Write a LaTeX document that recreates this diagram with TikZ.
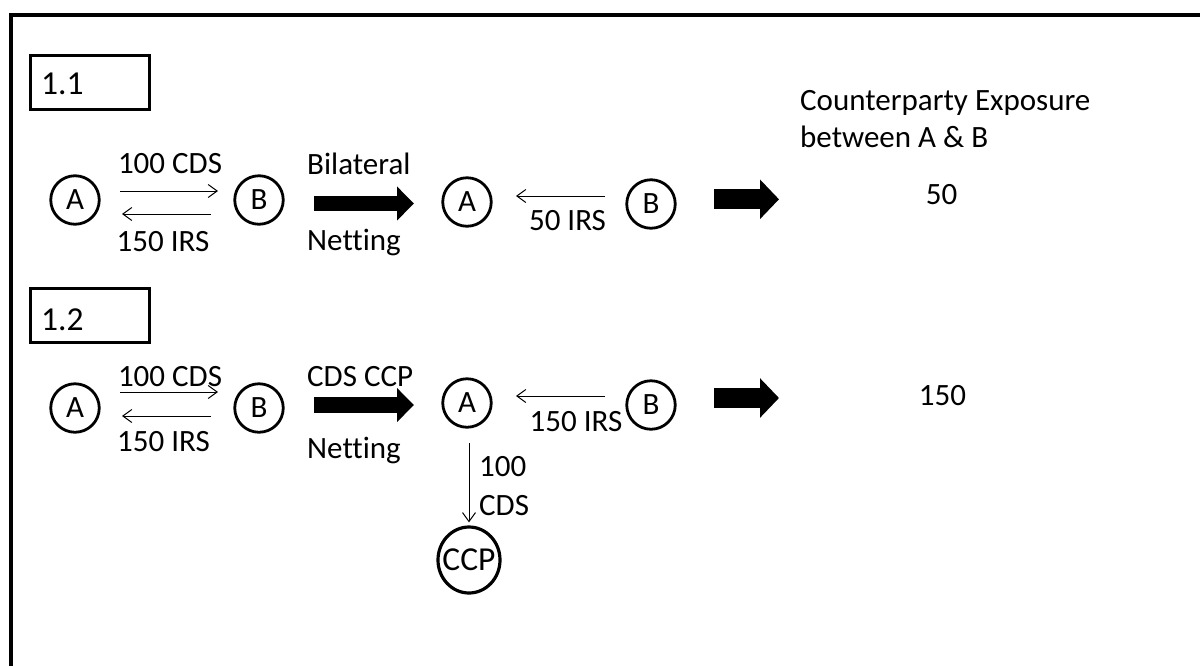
\documentclass[tikz,border=0pt]{standalone}
\usepackage{fontspec}
\setmainfont{Carlito}[Ligatures=NoCommon]
\usetikzlibrary{arrows.meta,calc,shapes.geometric}

\begin{document}
\begin{tikzpicture}[x=1pt,y=-1pt,
  txt/.style={inner sep=0pt,font=\fontsize{31}{37}\selectfont},
  party/.style={circle,draw,line width=2.8pt,minimum size=48.5pt,inner sep=0pt,
    font=\fontsize{31}{37}\selectfont},
  hub/.style={ellipse,draw,line width=3.2pt,minimum width=62pt,minimum height=66pt,
    inner sep=0pt,font=\fontsize{33.5}{40}\selectfont},
  secbox/.style={draw,line width=2.8pt,minimum width=119.5pt,minimum height=54.5pt,inner sep=0pt},
  sectxt/.style={inner sep=0pt,font=\fontsize{33.5}{40}\selectfont},
  flow/.style={line width=1pt,-{Straight Barb[length=9pt,width=13pt]}},
  netwide/.style={line width=15.5pt,-{Triangle[length=17pt,width=33pt]}},
  netshort/.style={line width=20pt,-{Triangle[length=19pt,width=38.5pt]}}
]
\useasboundingbox (0,0) rectangle (1200,665);
\clip (0,0) rectangle (1200,665);

% outer frame (runs past the right and bottom edges)
\draw[line width=3.5pt] (11,720) -- (11,15) -- (1260,15);

% ---------- 1.1 : bilateral netting ----------
\node[secbox] (box1) at (90,82.5) {};
\node[sectxt,anchor=base west] (sec1) at (41,94.3) {1.1};

\node[party] (a1) at (75,200) {A};
\node[party] (b1) at (259,200) {B};
\draw[flow] ($(a1.center)+(45,-9)$) -- ($(b1.center)+(-41,-9)$);
\draw[flow] ($(b1.center)+(-48,14)$) -- ($(a1.center)+(47,14)$);
\node[txt,anchor=base] (cds1) at (170,173.3) {100 CDS};
\node[txt,anchor=base] (irs1) at (163,251) {150 IRS};

\node[txt,anchor=base west] (bil) at (307,174) {Bilateral};
\node[txt,anchor=base west] (net1) at (307,250) {Netting};

\node[party] (a2) at (467,202) {A};
\node[party] (b2) at (651,204) {B};
\draw[netwide] ($(b1.center)+(55,3.5)$) -- ($(a2.center)+(-53,1.5)$);
\draw[flow] ($(b2.center)+(-46,-8)$) -- ($(a2.center)+(49,-6)$);
\node[txt,anchor=base] (irs2) at (567.5,230.7) {50 IRS};

\draw[netshort] ($(b2.center)+(63,-4.7)$) -- ++(65,0);

\node[txt,anchor=base west] (exp1) at (800,110) {Counterparty Exposure};
\node[txt,anchor=base west] (exp2) at (800,147.3) {between A \& B};
\node[txt,anchor=base] (res1) at (941.7,204) {50};

% ---------- 1.2 : CDS cleared through a CCP ----------
\node[secbox] (box2) at (90,315.5) {};
\node[sectxt,anchor=base west] (sec2) at (41,330) {1.2};

\node[party] (a3) at (75,408) {A};
\node[party] (b3) at (259,408) {B};
\draw[flow] ($(a3.center)+(45,-16)$) -- ($(b3.center)+(-41,-16)$);
\draw[flow] ($(b3.center)+(-48,8)$) -- ($(a3.center)+(47,8)$);
\node[txt,anchor=base] (cds3) at (170,386) {100 CDS};
\node[txt,anchor=base] (irs3) at (163.5,451.7) {150 IRS};

\node[txt,anchor=base west] (ccpnet) at (307,386) {CDS CCP};
\node[txt,anchor=base west] (net2) at (307,458) {Netting};

\node[party] (a4) at (467,403) {A};
\node[party] (b4) at (651,405) {B};
\draw[netwide] ($(b3.center)+(55,-3)$) -- ($(a4.center)+(-53,2)$);
\draw[flow] ($(b4.center)+(-46,-9)$) -- ($(a4.center)+(49,-7)$);
\node[txt,anchor=base] (irs4) at (576,431.7) {150 IRS};

% the label fills the ring almost edge to edge
\node[hub] (ccp) at (469,560) {\makebox[0pt]{CCP}};
\draw[flow] ($(a4.center)+(2,40)$) -- ($(ccp.north)+(0,-3)$);
\node[txt,anchor=base west] (cds4a) at (479,476.7) {100};
\node[txt,anchor=base west] (cds4b) at (479,515) {CDS};

\draw[netshort] ($(b4.center)+(63,-7)$) -- ++(65,0);
\node[txt,anchor=base] (res2) at (942.5,405) {150};
\end{tikzpicture}
\end{document}
